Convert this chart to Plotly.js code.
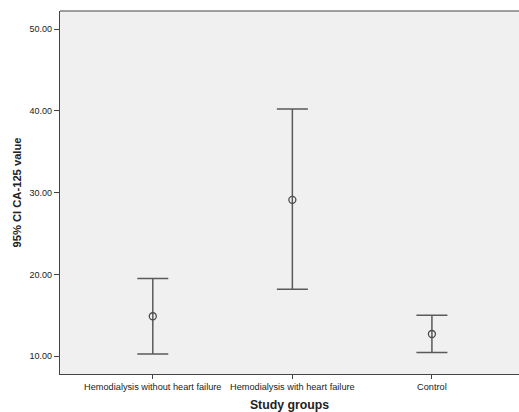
<!DOCTYPE html>
<html>
<head>
<meta charset="utf-8">
<script src="https://cdn.plot.ly/plotly-3.0.1.min.js"></script>
<style>html,body{margin:0;padding:0;background:#fff;}#chart{width:519px;height:412px;}</style>
</head>
<body>
<div id="chart"></div>
<script>
var groups = ["Hemodialysis without heart failure", "Hemodialysis with heart failure", "Control"];
var means = [14.87, 29.12, 12.70];
var upper = [19.49, 40.23, 14.99];
var lower = [10.25, 18.17, 10.42];
var yTicks = [10, 20, 30, 40, 50];

var plus = means.map(function(m, i){ return upper[i] - m; });
var minus = means.map(function(m, i){ return m - lower[i]; });
var xIdx = groups.map(function(g, i){ return i; });

var trace = {
  type: "scatter",
  mode: "markers",
  x: xIdx,
  y: means,
  marker: {symbol: "circle-open", size: 7, color: "#4a4a4a", line: {width: 1.3, color: "#4a4a4a"}},
  error_y: {type: "data", symmetric: false, array: plus, arrayminus: minus,
            color: "#5a5a5a", thickness: 1.5, width: 15.5},
  hoverinfo: "none"
};

var layout = {
  width: 519, height: 412,
  margin: {l: 60, r: 0, t: 11, b: 38},
  paper_bgcolor: "#ffffff",
  plot_bgcolor: "#f0f0f0",
  showlegend: false,
  font: {family: "Liberation Sans, Arial, sans-serif", color: "#222"},
  shapes: [{type: "line", xref: "paper", yref: "paper", x0: 0, x1: 1, y0: 1, y1: 1,
            line: {color: "#444", width: 1.2}}],
  xaxis: {
    range: [-0.665, 2.624],
    tickmode: "array", tickvals: xIdx, ticktext: groups,
    ticks: "outside", ticklen: 4, tickcolor: "#444", tickwidth: 1,
    showline: true, linecolor: "#444", linewidth: 1.2, mirror: false,
    showgrid: false, zeroline: false,
    tickfont: {size: 9.2, color: "#222"},
    title: {text: "<b>Study groups</b>", font: {size: 12.3, color: "#222"}, standoff: 9}
  },
  yaxis: {
    range: [7.8, 52.24],
    tickmode: "array", tickvals: yTicks,
    tickformat: ".2f",
    ticks: "outside", ticklen: 5, tickcolor: "#444", tickwidth: 1,
    showline: true, linecolor: "#444", linewidth: 1.2, mirror: false,
    showgrid: false, zeroline: false,
    tickfont: {size: 9, color: "#222"},
    title: {text: "<b>95% CI CA-125 value</b>", font: {size: 11.2, color: "#222"}, standoff: 5}
  }
};

Plotly.newPlot("chart", [trace], layout, {staticPlot: true, displayModeBar: false});
</script>
</body>
</html>
